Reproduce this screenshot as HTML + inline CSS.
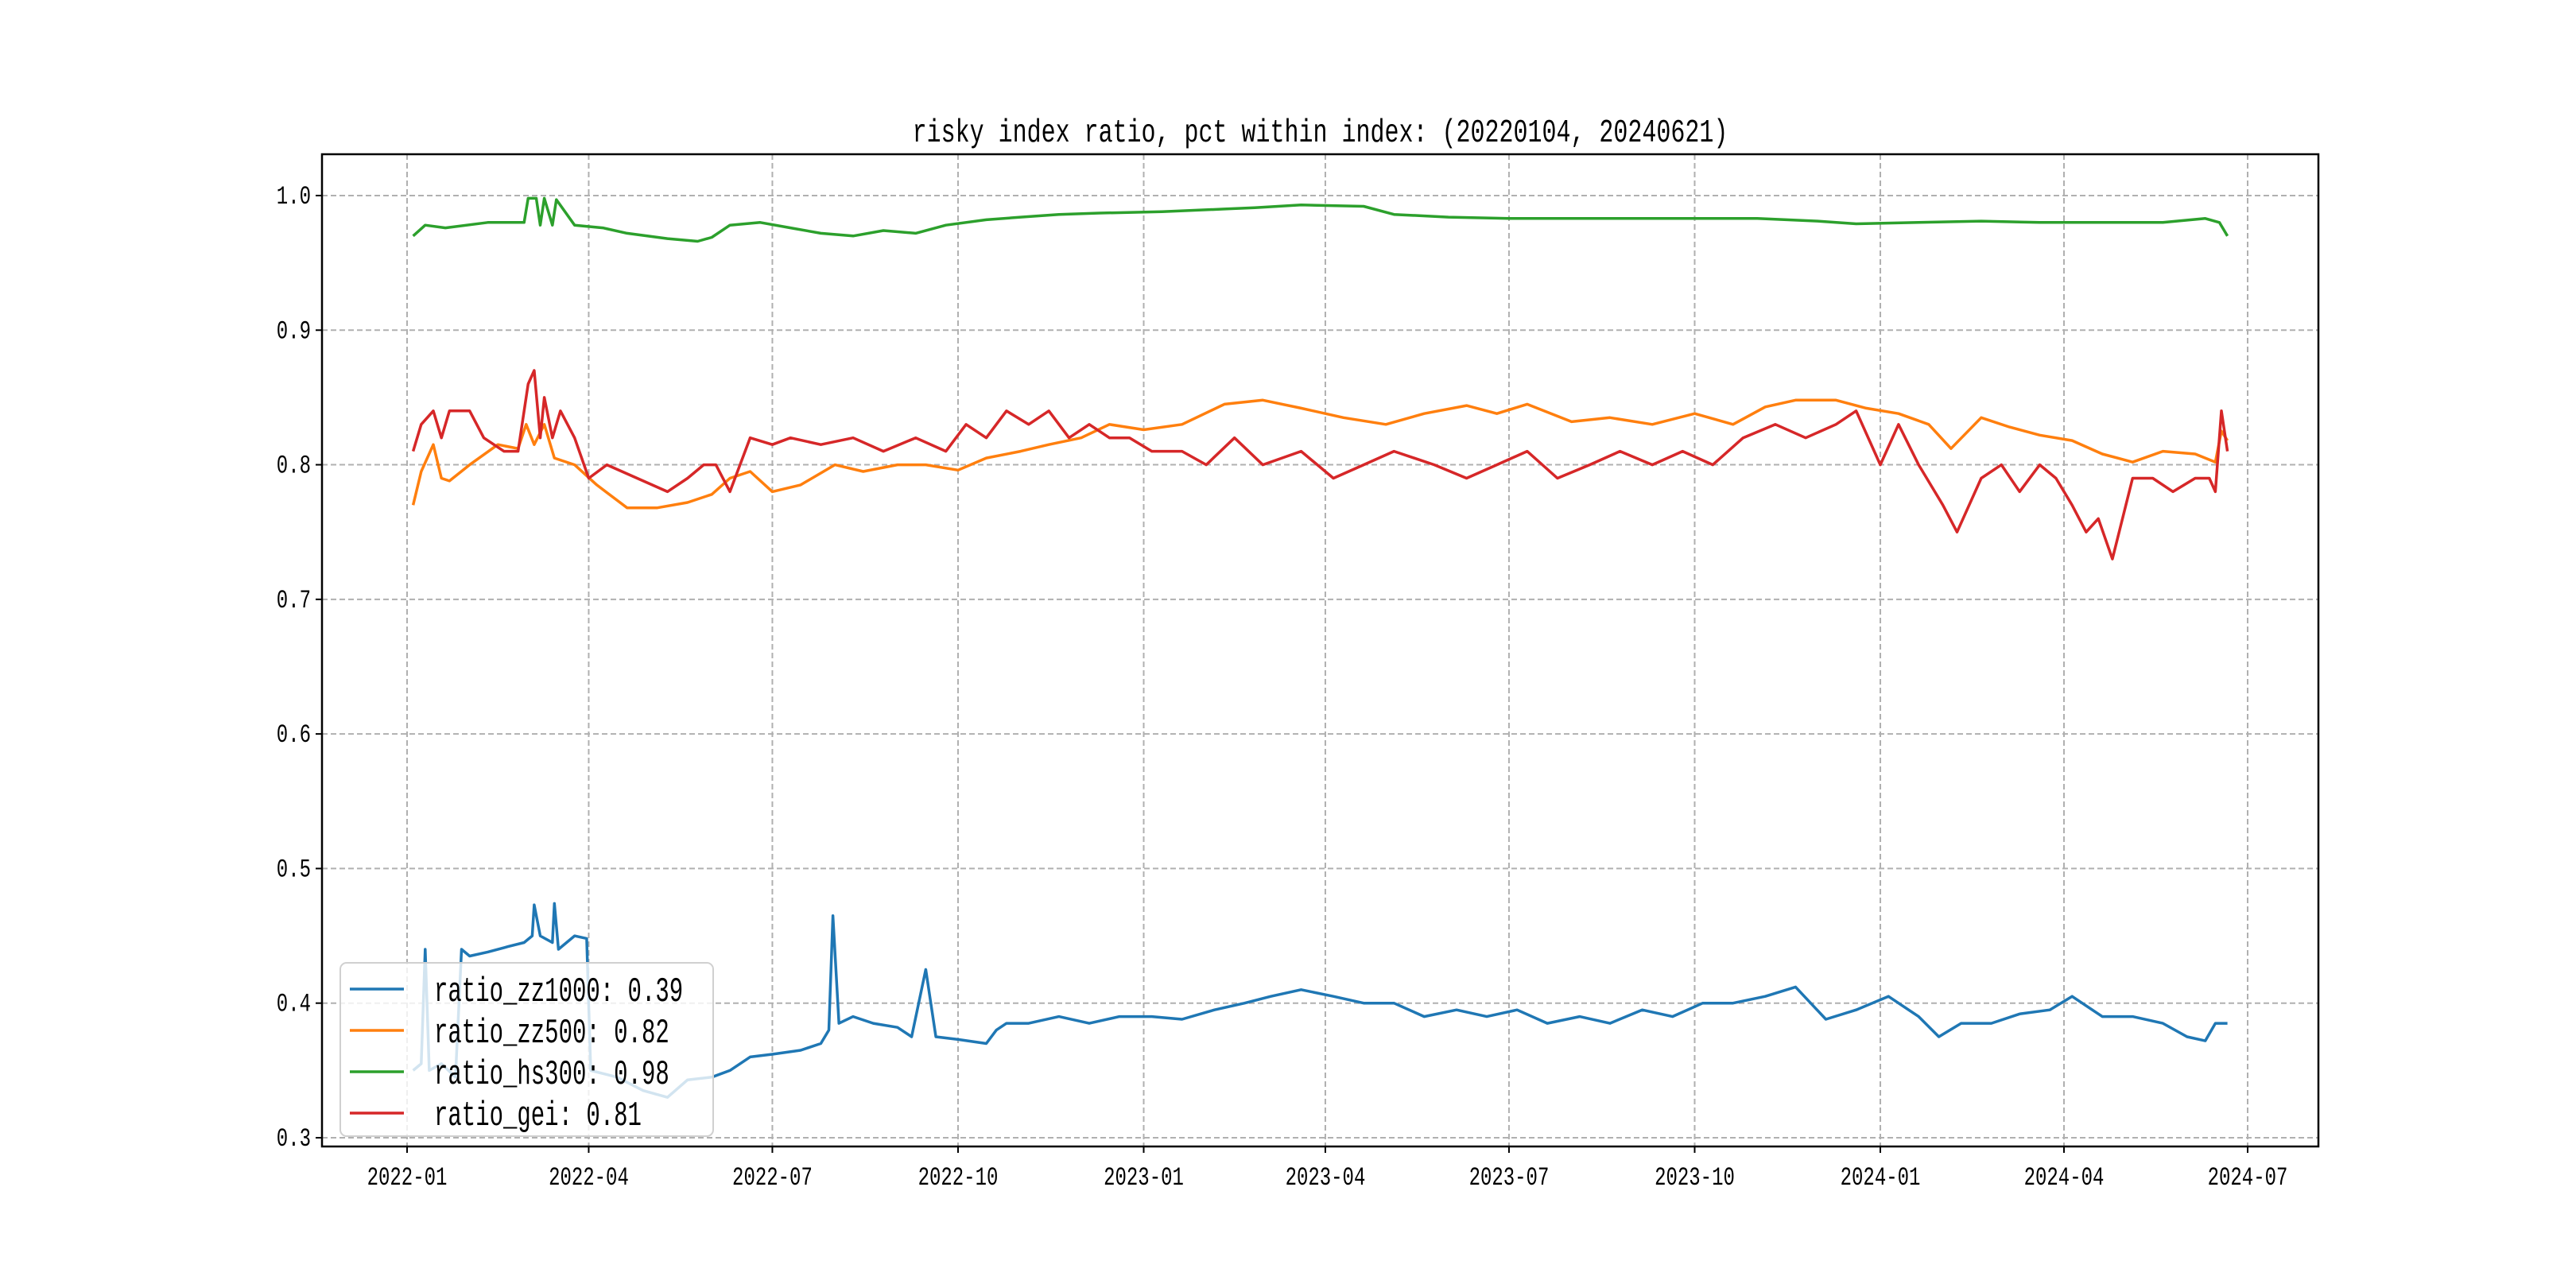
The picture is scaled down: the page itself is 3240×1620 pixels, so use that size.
<!DOCTYPE html>
<html><head><meta charset="utf-8">
<style>
html,body{margin:0;padding:0;background:#fff;}
svg{display:block;font-family:"Liberation Mono","Noto Sans CJK SC",monospace;}
</style></head>
<body>
<svg id="chart" width="3240" height="1620" viewBox="0 0 3240 1620" xmlns="http://www.w3.org/2000/svg">
<rect width="3240" height="1620" fill="#fff"/>
<g id="grid"></g>
<g id="series"></g>
<g id="axes"></g>
<g id="legend"></g>
</svg>
<script>
const yTicks = [0.3,0.4,0.5,0.6,0.7,0.8,0.9,1.0];
const xTickLabels = ["2022-01","2022-04","2022-07","2022-10","2023-01","2023-04","2023-07","2023-10","2024-01","2024-04","2024-07"];
const seriesNames = ["ratio_zz1000: 0.39","ratio_zz500: 0.82","ratio_hs300: 0.98","ratio_gei: 0.81"];
const seriesColors = ["#1f77b4","#ff7f0e","#2ca02c","#d62728"];

const hs300Dates = ["2022-01-04","2022-01-10","2022-01-20","2022-02-10","2022-02-28","2022-03-02","2022-03-06","2022-03-08","2022-03-10","2022-03-14","2022-03-16","2022-03-25","2022-04-08","2022-04-20","2022-05-10","2022-05-25","2022-06-01","2022-06-10","2022-06-25","2022-07-10","2022-07-25","2022-08-10","2022-08-25","2022-09-10","2022-09-25","2022-10-15","2022-11-01","2022-11-20","2022-12-10","2023-01-10","2023-02-10","2023-02-25","2023-03-20","2023-04-20","2023-05-05","2023-06-01","2023-07-01","2023-08-01","2023-09-01","2023-10-01","2023-11-01","2023-12-01","2023-12-20","2024-01-20","2024-02-20","2024-03-20","2024-04-20","2024-05-20","2024-06-10","2024-06-17","2024-06-21"];
const hs300Values = [0.970,0.978,0.976,0.980,0.980,0.998,0.998,0.978,0.998,0.978,0.997,0.978,0.976,0.972,0.968,0.966,0.969,0.978,0.980,0.976,0.972,0.970,0.974,0.972,0.978,0.982,0.984,0.986,0.987,0.988,0.990,0.991,0.993,0.992,0.986,0.984,0.983,0.983,0.983,0.983,0.983,0.981,0.979,0.980,0.981,0.980,0.980,0.980,0.983,0.980,0.970];

const zz500Dates = ["2022-01-04","2022-01-08","2022-01-14","2022-01-18","2022-01-22","2022-02-01","2022-02-15","2022-02-25","2022-03-01","2022-03-05","2022-03-10","2022-03-15","2022-03-25","2022-04-05","2022-04-20","2022-05-05","2022-05-20","2022-06-01","2022-06-10","2022-06-20","2022-07-01","2022-07-15","2022-08-01","2022-08-15","2022-09-01","2022-09-15","2022-10-01","2022-10-15","2022-11-01","2022-11-15","2022-12-01","2022-12-15","2023-01-01","2023-01-20","2023-02-10","2023-03-01","2023-03-20","2023-04-10","2023-05-01","2023-05-20","2023-06-10","2023-06-25","2023-07-10","2023-08-01","2023-08-20","2023-09-10","2023-10-01","2023-10-20","2023-11-05","2023-11-20","2023-12-10","2023-12-25","2024-01-10","2024-01-25","2024-02-05","2024-02-20","2024-03-05","2024-03-20","2024-04-05","2024-04-20","2024-05-05","2024-05-20","2024-06-05","2024-06-15","2024-06-18","2024-06-21"];
const zz500Values = [0.770,0.795,0.815,0.790,0.788,0.800,0.815,0.812,0.830,0.815,0.830,0.805,0.800,0.785,0.768,0.768,0.772,0.778,0.790,0.795,0.780,0.785,0.800,0.795,0.800,0.800,0.796,0.805,0.810,0.815,0.820,0.830,0.826,0.830,0.845,0.848,0.842,0.835,0.830,0.838,0.844,0.838,0.845,0.832,0.835,0.830,0.838,0.830,0.843,0.848,0.848,0.842,0.838,0.830,0.812,0.835,0.828,0.822,0.818,0.808,0.802,0.810,0.808,0.802,0.825,0.818];

const geiDates = ["2022-01-04","2022-01-08","2022-01-14","2022-01-18","2022-01-22","2022-02-01","2022-02-08","2022-02-18","2022-02-25","2022-03-02","2022-03-05","2022-03-08","2022-03-10","2022-03-14","2022-03-18","2022-03-25","2022-04-01","2022-04-10","2022-04-25","2022-05-10","2022-05-20","2022-05-28","2022-06-03","2022-06-10","2022-06-20","2022-07-01","2022-07-10","2022-07-25","2022-08-10","2022-08-25","2022-09-10","2022-09-25","2022-10-05","2022-10-15","2022-10-25","2022-11-05","2022-11-15","2022-11-25","2022-12-05","2022-12-15","2022-12-25","2023-01-05","2023-01-20","2023-02-01","2023-02-15","2023-03-01","2023-03-20","2023-04-05","2023-04-20","2023-05-05","2023-05-25","2023-06-10","2023-06-25","2023-07-10","2023-07-25","2023-08-10","2023-08-25","2023-09-10","2023-09-25","2023-10-10","2023-10-25","2023-11-10","2023-11-25","2023-12-10","2023-12-20","2024-01-01","2024-01-10","2024-01-20","2024-02-01","2024-02-08","2024-02-20","2024-03-01","2024-03-10","2024-03-20","2024-03-28","2024-04-05","2024-04-12","2024-04-18","2024-04-25","2024-05-05","2024-05-15","2024-05-25","2024-06-05","2024-06-12","2024-06-15","2024-06-18","2024-06-21"];
const geiValues = [0.810,0.830,0.840,0.820,0.840,0.840,0.820,0.810,0.810,0.860,0.870,0.820,0.850,0.820,0.840,0.820,0.790,0.800,0.790,0.780,0.790,0.800,0.800,0.780,0.820,0.815,0.820,0.815,0.820,0.810,0.820,0.810,0.830,0.820,0.840,0.830,0.840,0.820,0.830,0.820,0.820,0.810,0.810,0.800,0.820,0.800,0.810,0.790,0.800,0.810,0.800,0.790,0.800,0.810,0.790,0.800,0.810,0.800,0.810,0.800,0.820,0.830,0.820,0.830,0.840,0.800,0.830,0.800,0.770,0.750,0.790,0.800,0.780,0.800,0.790,0.770,0.750,0.760,0.730,0.790,0.790,0.780,0.790,0.790,0.780,0.840,0.810];

const zz1000Dates = ["2022-01-04","2022-01-08","2022-01-10","2022-01-12","2022-01-18","2022-01-25","2022-01-28","2022-02-01","2022-02-10","2022-02-20","2022-02-28","2022-03-04","2022-03-05","2022-03-08","2022-03-14","2022-03-15","2022-03-17","2022-03-25","2022-03-31","2022-04-02","2022-04-15","2022-04-28","2022-05-10","2022-05-20","2022-06-01","2022-06-10","2022-06-20","2022-07-01","2022-07-15","2022-07-25","2022-07-29","2022-07-31","2022-08-03","2022-08-10","2022-08-20","2022-09-01","2022-09-08","2022-09-15","2022-09-20","2022-10-01","2022-10-15","2022-10-20","2022-10-25","2022-11-05","2022-11-20","2022-12-05","2022-12-20","2023-01-05","2023-01-20","2023-02-05","2023-02-20","2023-03-05","2023-03-20","2023-04-05","2023-04-20","2023-05-05","2023-05-20","2023-06-05","2023-06-20","2023-07-05","2023-07-20","2023-08-05","2023-08-20","2023-09-05","2023-09-20","2023-10-05","2023-10-20","2023-11-05","2023-11-20","2023-12-05","2023-12-20","2024-01-05","2024-01-20","2024-01-30","2024-02-10","2024-02-25","2024-03-10","2024-03-25","2024-04-05","2024-04-20","2024-05-05","2024-05-20","2024-06-01","2024-06-10","2024-06-15","2024-06-21"];
const zz1000Values = [0.350,0.355,0.440,0.350,0.355,0.345,0.440,0.435,0.438,0.442,0.445,0.450,0.473,0.450,0.445,0.474,0.440,0.450,0.448,0.350,0.345,0.335,0.330,0.343,0.345,0.350,0.360,0.362,0.365,0.370,0.380,0.465,0.385,0.390,0.385,0.382,0.375,0.425,0.375,0.373,0.370,0.380,0.385,0.385,0.390,0.385,0.390,0.390,0.388,0.395,0.400,0.405,0.410,0.405,0.400,0.400,0.390,0.395,0.390,0.395,0.385,0.390,0.385,0.395,0.390,0.400,0.400,0.405,0.412,0.388,0.395,0.405,0.390,0.375,0.385,0.385,0.392,0.395,0.405,0.390,0.390,0.385,0.375,0.372,0.385,0.385];

const L=405,R=2916,T=194,B=1442;
const yMin=0.2935,yMax=1.0307;
const d0=Date.UTC(2022,0,1), d1=Date.UTC(2024,6,1), x0=512, x1=2827;
function xScale(s){const p=s.split('-').map(Number);const t=Date.UTC(p[0],p[1]-1,p[2]||1);return x0+(t-d0)/(d1-d0)*(x1-x0);}
function yScale(v){return B-(v-yMin)/(yMax-yMin)*(B-T);}
const NS="http://www.w3.org/2000/svg";
function mk(tag,attrs,parent){const e=document.createElementNS(NS,tag);for(const k in attrs)e.setAttribute(k,attrs[k]);parent.appendChild(e);return e;}
function tx(x,y,sy,size,anchor,parent){return mk('text',{x:0,y:0,transform:'translate('+x+','+y+') scale(1,'+sy+')','font-size':size,'text-anchor':anchor,fill:'#000'},parent);}
const grid=document.getElementById('grid'),axes=document.getElementById('axes'),ser=document.getElementById('series'),leg=document.getElementById('legend');

yTicks.forEach(v=>{
  const y=yScale(v);
  const g=mk('line',{x1:L,x2:R,y1:y,y2:y,stroke:'#b0b0b0','stroke-width':2,'stroke-dasharray':'7,4'},grid);
  
  
  const tk=mk('line',{x1:L-8,x2:L,y1:y,y2:y,stroke:'#000','stroke-width':2},axes);
  
  
  const t=tx(L-14,y+10,1.35,24,'end',axes);
  t.textContent=v.toFixed(1);
  
  
});
xTickLabels.forEach(s=>{
  const x=xScale(s);
  const g=mk('line',{x1:x,x2:x,y1:T,y2:B,stroke:'#b0b0b0','stroke-width':2,'stroke-dasharray':'7,4'},grid);
  
  
  const tk=mk('line',{x1:x,x2:x,y1:B,y2:B+8,stroke:'#000','stroke-width':2},axes);
  
  
  const t=tx(x,B+48,1.35,24,'middle',axes);
  t.textContent=s;
  
  
});
const frame=mk('rect',{x:L,y:T,width:R-L,height:B-T,fill:'none',stroke:'#000','stroke-width':2.5},axes);


const title=tx((L+R)/2,178,1.35,30,'middle',axes);
title.textContent='risky index ratio, pct within index: (20220104, 20240621)';



const allDates=[zz1000Dates,zz500Dates,hs300Dates,geiDates];
const allVals=[zz1000Values,zz500Values,hs300Values,geiValues];
const lineNames=['line-zz1000','line-zz500','line-hs300','line-gei'];
[2,1,3,0].forEach(i=>{
  const pts=allDates[i].map((d,j)=>xScale(d).toFixed(1)+','+yScale(allVals[i][j]).toFixed(1)).join(' ');
  const p=mk('polyline',{points:pts,fill:'none',stroke:seriesColors[i],'stroke-width':3.5,'stroke-linejoin':'round'},ser);
  
  
});

const box=mk('rect',{x:428,y:1211,width:469,height:218,rx:8,fill:'#fff','fill-opacity':0.8,stroke:'#d0d0d0','stroke-width':2},leg);


seriesNames.forEach((n,i)=>{
  const y=1244+i*52;
  const ln=mk('line',{x1:440,x2:508,y1:y,y2:y,stroke:seriesColors[i],'stroke-width':3.5},leg);
  
  
  const t=tx(546,y+15,1.5,29,'start',leg);
  t.textContent=n;
  
  
});
</script>
</body></html>
